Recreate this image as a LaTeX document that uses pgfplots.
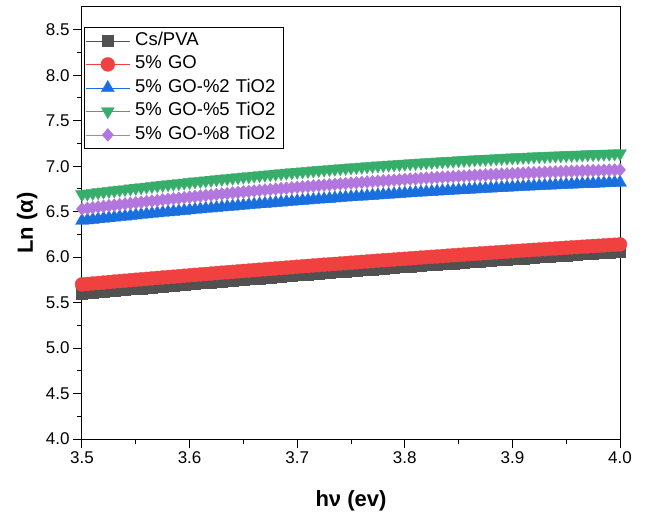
\documentclass[border=0pt]{standalone}
\usepackage{fontspec}
\setmainfont{Liberation Sans}
\usepackage{pgfplots}
\usepackage{pgfplotstable}
\pgfplotsset{compat=1.18}
\usetikzlibrary{calc}
\definecolor{cgray}{RGB}{81,81,81}
\definecolor{cred}{RGB}{241,64,64}
\definecolor{cblue}{RGB}{26,111,223}
\definecolor{cgreen}{RGB}{55,173,107}
\definecolor{cpurple}{RGB}{177,119,222}
\pgfplotstableread{
x gray red blue green purple
3.500 5.600 5.700 6.400 6.690 6.530
3.505 5.605 5.705 6.406 6.697 6.537
3.510 5.611 5.710 6.412 6.704 6.544
3.515 5.616 5.715 6.418 6.712 6.551
3.520 5.621 5.720 6.424 6.719 6.558
3.525 5.627 5.726 6.430 6.726 6.565
3.530 5.632 5.731 6.436 6.733 6.571
3.535 5.637 5.736 6.442 6.739 6.578
3.540 5.642 5.741 6.448 6.746 6.585
3.545 5.648 5.746 6.454 6.753 6.591
3.550 5.653 5.751 6.460 6.760 6.598
3.555 5.658 5.756 6.466 6.766 6.604
3.560 5.663 5.761 6.472 6.773 6.611
3.565 5.668 5.766 6.477 6.780 6.617
3.570 5.673 5.771 6.483 6.786 6.623
3.575 5.679 5.776 6.488 6.793 6.630
3.580 5.684 5.780 6.494 6.799 6.636
3.585 5.689 5.785 6.500 6.805 6.642
3.590 5.694 5.790 6.505 6.812 6.648
3.595 5.699 5.795 6.511 6.818 6.654
3.600 5.704 5.800 6.516 6.824 6.660
3.605 5.709 5.805 6.521 6.830 6.666
3.610 5.714 5.810 6.527 6.836 6.672
3.615 5.719 5.814 6.532 6.842 6.678
3.620 5.724 5.819 6.537 6.848 6.683
3.625 5.729 5.824 6.542 6.854 6.689
3.630 5.734 5.829 6.548 6.860 6.695
3.635 5.739 5.834 6.553 6.866 6.700
3.640 5.744 5.838 6.558 6.871 6.706
3.645 5.749 5.843 6.563 6.877 6.711
3.650 5.754 5.848 6.568 6.883 6.717
3.655 5.759 5.852 6.573 6.888 6.722
3.660 5.764 5.857 6.578 6.894 6.727
3.665 5.768 5.862 6.583 6.899 6.733
3.670 5.773 5.866 6.588 6.905 6.738
3.675 5.778 5.871 6.592 6.910 6.743
3.680 5.783 5.876 6.597 6.915 6.748
3.685 5.788 5.880 6.602 6.921 6.753
3.690 5.792 5.885 6.607 6.926 6.758
3.695 5.797 5.889 6.611 6.931 6.763
3.700 5.802 5.894 6.616 6.936 6.768
3.705 5.807 5.899 6.621 6.941 6.773
3.710 5.811 5.903 6.625 6.946 6.778
3.715 5.816 5.908 6.630 6.951 6.782
3.720 5.821 5.912 6.634 6.956 6.787
3.725 5.826 5.917 6.638 6.961 6.792
3.730 5.830 5.921 6.643 6.965 6.796
3.735 5.835 5.925 6.647 6.970 6.801
3.740 5.840 5.930 6.652 6.975 6.805
3.745 5.844 5.934 6.656 6.979 6.809
3.750 5.849 5.939 6.660 6.984 6.814
3.755 5.853 5.943 6.664 6.988 6.818
3.760 5.858 5.948 6.668 6.993 6.822
3.765 5.862 5.952 6.672 6.997 6.826
3.770 5.867 5.956 6.676 7.001 6.831
3.775 5.872 5.961 6.680 7.006 6.835
3.780 5.876 5.965 6.684 7.010 6.839
3.785 5.881 5.969 6.688 7.014 6.842
3.790 5.885 5.973 6.692 7.018 6.846
3.795 5.890 5.978 6.696 7.022 6.850
3.800 5.894 5.982 6.700 7.026 6.854
3.805 5.898 5.986 6.704 7.030 6.858
3.810 5.903 5.990 6.708 7.034 6.861
3.815 5.907 5.995 6.711 7.038 6.865
3.820 5.912 5.999 6.715 7.041 6.869
3.825 5.916 6.003 6.718 7.045 6.872
3.830 5.920 6.007 6.722 7.049 6.876
3.835 5.925 6.011 6.726 7.052 6.879
3.840 5.929 6.016 6.729 7.056 6.882
3.845 5.933 6.020 6.733 7.059 6.886
3.850 5.938 6.024 6.736 7.063 6.889
3.855 5.942 6.028 6.739 7.066 6.892
3.860 5.946 6.032 6.743 7.069 6.895
3.865 5.951 6.036 6.746 7.073 6.898
3.870 5.955 6.040 6.749 7.076 6.901
3.875 5.959 6.044 6.752 7.079 6.904
3.880 5.963 6.048 6.756 7.082 6.907
3.885 5.967 6.052 6.759 7.085 6.910
3.890 5.972 6.056 6.762 7.088 6.913
3.895 5.976 6.060 6.765 7.091 6.915
3.900 5.980 6.064 6.768 7.094 6.918
3.905 5.984 6.068 6.771 7.097 6.921
3.910 5.988 6.072 6.774 7.100 6.923
3.915 5.992 6.076 6.777 7.102 6.926
3.920 5.996 6.080 6.780 7.105 6.928
3.925 6.001 6.084 6.782 7.108 6.931
3.930 6.005 6.087 6.785 7.110 6.933
3.935 6.009 6.091 6.788 7.113 6.935
3.940 6.013 6.095 6.791 7.115 6.937
3.945 6.017 6.099 6.793 7.117 6.940
3.950 6.021 6.103 6.796 7.120 6.942
3.955 6.025 6.107 6.799 7.122 6.944
3.960 6.029 6.110 6.801 7.124 6.946
3.965 6.033 6.114 6.804 7.126 6.948
3.970 6.037 6.118 6.806 7.129 6.950
3.975 6.041 6.122 6.808 7.131 6.952
3.980 6.044 6.125 6.811 7.133 6.953
3.985 6.048 6.129 6.813 7.135 6.955
3.990 6.052 6.133 6.816 7.136 6.957
3.995 6.056 6.136 6.818 7.138 6.958
4.000 6.060 6.140 6.820 7.140 6.960
}\datatable
\begin{document}
\begin{tikzpicture}
\begin{axis}[
  scale only axis,
  width=538pt, height=432pt,
  xmin=3.5, xmax=4.0, ymin=4.0, ymax=8.75,
  xtick={3.5,3.6,3.7,3.8,3.9,4.0},
  ytick={4.0,4.5,5.0,5.5,6.0,6.5,7.0,7.5,8.0,8.5},
  minor x tick num=1, minor y tick num=1,
  tick align=outside,
  xtick pos=left, ytick pos=left,
  major tick length=9pt, minor tick length=5pt,
  every tick/.style={black, line width=1pt},
  axis line style={line width=1pt},
  tick label style={font=\fontsize{17}{17}\selectfont},
  /pgf/number format/assume math mode=true,
  xticklabel style={/pgf/number format/.cd, fixed, fixed zerofill, precision=1},
  yticklabel style={/pgf/number format/.cd, fixed, fixed zerofill, precision=1},
  xlabel={hν (ev)}, ylabel={Ln (α)},
  label style={font=\bfseries\fontsize{22}{22}\selectfont},
  xlabel style={at={(axis description cs:0.5,-0.157)}, anchor=base},
  ylabel style={at={(axis description cs:-0.102,0.5)}, anchor=center},
  legend style={at={(axis description cs:0,1)}, anchor=north west,
    xshift=2pt, yshift=-20pt, draw=black, line width=0.8pt,
    font=\fontsize{18.5}{18.5}\selectfont,
    inner xsep=1pt, inner ysep=4pt, row sep=4.5pt,
    nodes={inner sep=1pt, text height=13pt, text depth=4pt},
    /tikz/every odd column/.append style={column sep=4pt},
    /tikz/every even column/.append style={nodes={text width=146pt}}},
  legend cell align=left,
  legend image code/.code={\draw[mark repeat=2,mark phase=2,#1] plot coordinates {(0pt,0pt) (22pt,0pt) (44pt,0pt)};},
]
\addplot[color=cgray, line width=0.8pt, mark=square*, mark size=5.5pt,
  mark options={solid, fill=cgray, draw=cgray, line width=0.3pt}]
  table[x=x, y=gray]{\datatable};
\addlegendentry{Cs/PVA}
\addplot[color=cred, line width=0.8pt, mark=*, mark size=7pt,
  mark options={solid, fill=cred, draw=cred, line width=0.3pt}]
  table[x=x, y=red]{\datatable};
\addlegendentry{5\% GO}
\addplot[color=cblue, line width=0.8pt, mark=triangle*, mark size=7.5pt,
  mark options={solid, fill=cblue, draw=cblue, line width=0.3pt}]
  table[x=x, y=blue]{\datatable};
\addlegendentry{5\% GO-\%2 TiO2}
\addplot[color=cgreen, line width=0.8pt, mark=triangle*, mark size=7.5pt,
  mark options={solid, rotate=180, fill=cgreen, draw=cgreen, line width=0.3pt}]
  table[x=x, y=green]{\datatable};
\addlegendentry{5\% GO-\%5 TiO2}
\addplot[color=cpurple, line width=0.8pt, mark=diamond*, mark size=6.5pt,
  mark options={solid, xscale=1.15, fill=cpurple, draw=cpurple, line width=0.3pt}]
  table[x=x, y=purple]{\datatable};
\addlegendentry{5\% GO-\%8 TiO2}
\end{axis}
\path ($(current axis.south west)+(-82pt,-75pt)$) rectangle ($(current axis.north east)+(25pt,7pt)$);
\end{tikzpicture}
\end{document}
